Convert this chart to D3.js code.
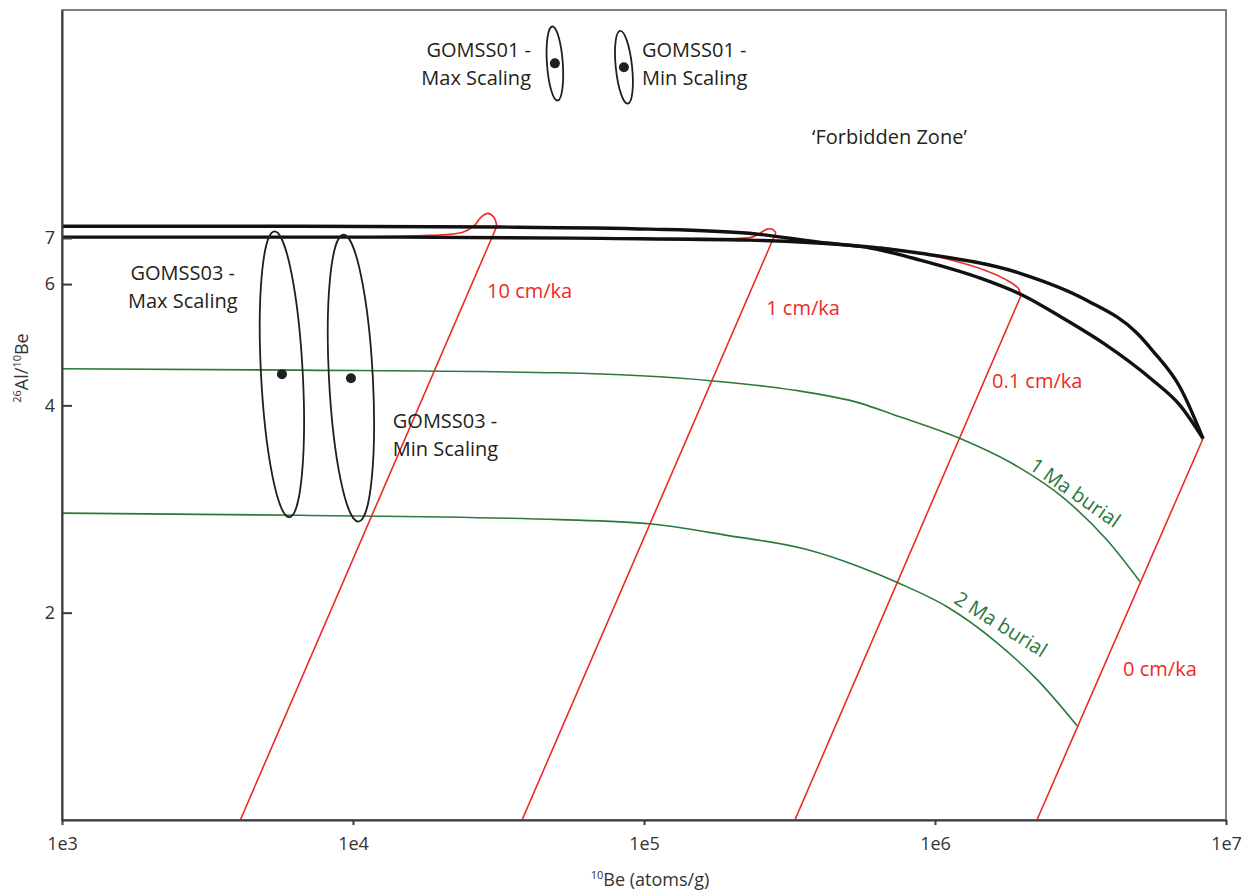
<!DOCTYPE html>
<html lang="en">
<head>
<meta charset="UTF-8">
<title>26Al/10Be burial plot</title>
<style>
  body { margin: 0; background: #fff; }
  text { font-family: "Open Sans", "Noto Sans", sans-serif; }
</style>
</head>
<body>
<div class="canvas"></div>
<script src="https://cdnjs.cloudflare.com/ajax/libs/d3/7.8.5/d3.min.js"></script>
<script>
// axis ticks
const beTicks = [1e3, 1e4, 1e5, 1e6, 1e7];
const ratioTicks = [2, 4, 6, 7];

// black curves [10Be, 26Al/10Be]
const curveUpper = [[1e3,7.28],[6.6e3,7.28],[3.2e4,7.26],[1.05e5,7.21],[2.3e5,7.11],[4.0e5,6.90],[6.0e5,6.77],
  [8.9e5,6.50],[1.43e6,6.12],[2.0e6,5.78],[2.7e6,5.38],[3.8e6,4.92],[5.6e6,4.35],[6.95e6,4.0],[8.34e6,3.58]];
const curveLower = [[1e3,7.02],[1.45e4,7.02],[7.1e4,6.99],[2.3e5,6.95],[5.1e5,6.83],[8.9e5,6.65],[1.96e6,6.22],
  [3.33e6,5.68],[4.95e6,5.09],[5.6e6,4.80],[6.95e6,4.25],[8.34e6,3.58]];

// erosion rate burial paths (start on curve, end at ratio 1)
const erosionLabels = ['10 cm/ka', '1 cm/ka', '0.1 cm/ka', '0 cm/ka'];
const erosionStart = [[3.12e4,7.28],[2.84e5,7.13],[1.97e6,5.76],[8.34e6,3.58]];
const erosionEnd = [[4.1e3,1],[3.81e4,1],[3.30e5,1],[2.24e6,1]];
const erosionHooks = [
  [[3.12e4,7.28],[3.05e4,7.50],[2.91e4,7.60],[2.75e4,7.50],[2.60e4,7.28],[2.37e4,7.13],[1.84e4,7.06],[9.24e3,7.02]],
  [[2.84e5,7.13],[2.75e5,7.21],[2.65e5,7.21],[2.54e5,7.14],[2.35e5,7.02],[1.56e5,6.99],[1.20e5,6.99]],
  [[1.97e6,5.76],[1.93e6,5.92],[1.74e6,6.10],[1.49e6,6.28],[1.17e6,6.48],[8.88e5,6.65],[6.47e5,6.79]]
];
const erosionLabelPos = [[2.89e4,5.72],[2.63e5,5.41],[1.57e6,4.24],[4.43e6,1.62]];

// burial isochrones
const burialLabels = ['1 Ma burial', '2 Ma burial'];
const burial1Ma = [[1e3,4.52],[6.58e3,4.50],[5.14e4,4.46],[1.73e5,4.34],[3.25e5,4.21],[5.52e5,4.03],[7.18e5,3.88],
  [1.22e6,3.58],[1.85e6,3.29],[2.75e6,2.94],[3.90e6,2.55],[5.06e6,2.22]];
const burial2Ma = [[1e3,2.79],[6.58e3,2.77],[5.14e4,2.73],[1.06e5,2.69],[1.93e5,2.59],[3.63e5,2.47],[5.52e5,2.33],
  [7.46e5,2.21],[1.10e6,2.04],[1.63e6,1.81],[2.24e6,1.60],[3.08e6,1.37]];
const burialLabelPos = [[2.09e6,3.24],[1.15e6,2.07]];
const burialLabelAngle = [35, 32];

// samples
const sampleBe = [4.94e4, 8.53e4, 5.7e3, 9.84e3];
const sampleRatio = [12.55, 12.39, 4.44, 4.38];
const sampleBeRange = [[4.64e4,5.26e4],[8.0e4,9.1e4],[4.83e3,6.72e3],[8.27e3,1.17e4]];
const sampleRatioRange = [[11.08,14.2],[10.96,14.0],[2.75,7.16],[2.71,7.08]];
const sampleTilt = [-4, -6, -3, -3];

// sample labels
const sampleLabels = [['GOMSS01 -','Max Scaling'],['GOMSS01 -','Min Scaling'],['GOMSS03 -','Max Scaling'],['GOMSS03 -','Min Scaling']];
const sampleLabelPos = [[4.09e4,12.81],[9.84e4,12.81],[2.60e3,6.08],[1.37e4,3.71]];
const sampleLabelAnchor = ['end','start','middle','start'];

const red = '#ee2a24';
const green = '#2b7a3b';
const ink = '#231f20';

const width = 1251, height = 890;
const margin = {top: 10, right: 25, bottom: 70, left: 62};
const graphWidth = width - margin.left - margin.right;
const graphHeight = height - margin.top - margin.bottom;

const svg = d3.select('.canvas')
  .append('svg')
    .attr('width', width)
    .attr('height', height);

const graph = svg.append('g')
  .attr('transform', `translate(${margin.left}, ${margin.top})`);

const x = d3.scaleLog().domain([1e3, 1e7]).range([0, graphWidth]);
const y = d3.scaleLog().domain([1, 15]).range([graphHeight, 0]);

graph.append('clipPath').attr('id', 'clip')
  .append('rect').attr('width', graphWidth).attr('height', graphHeight);

// frame (top/right)
graph.append('rect')
  .attr('width', graphWidth)
  .attr('height', graphHeight)
  .attr('fill', 'none')
  .attr('stroke', '#555')
  .attr('stroke-width', 1.5);

const plot = graph.append('g').attr('clip-path', 'url(#clip)');

const line = d3.line()
  .x(d => x(d[0]))
  .y(d => y(d[1]))
  .curve(d3.curveMonotoneX);

const hookLine = d3.line()
  .x(d => x(d[0]))
  .y(d => y(d[1]))
  .curve(d3.curveCatmullRom);

// red erosion lines
plot.selectAll('.erosion')
  .data(erosionStart)
  .enter().append('path')
    .attr('d', (d, i) => d3.line().x(p => x(p[0])).y(p => y(p[1]))([erosionEnd[i], d]))
    .attr('fill', 'none')
    .attr('stroke', red)
    .attr('stroke-width', 1.6);

plot.selectAll('.hook')
  .data(erosionHooks)
  .enter().append('path')
    .attr('d', hookLine)
    .attr('fill', 'none')
    .attr('stroke', red)
    .attr('stroke-width', 1.6);

// green burial lines
plot.selectAll('.burial')
  .data([burial1Ma, burial2Ma])
  .enter().append('path')
    .attr('d', line)
    .attr('fill', 'none')
    .attr('stroke', green)
    .attr('stroke-width', 1.6);

// black curves
plot.selectAll('.ss')
  .data([curveUpper, curveLower])
  .enter().append('path')
    .attr('d', line)
    .attr('fill', 'none')
    .attr('stroke', '#111')
    .attr('stroke-width', 3.4)
    .attr('stroke-linejoin', 'round');

// sample ellipses
sampleBe.forEach((be, i) => {
  const cx = (x(sampleBeRange[i][0]) + x(sampleBeRange[i][1])) / 2;
  const cy = (y(sampleRatioRange[i][0]) + y(sampleRatioRange[i][1])) / 2;
  plot.append('ellipse')
    .attr('cx', cx)
    .attr('cy', cy)
    .attr('rx', (x(sampleBeRange[i][1]) - x(sampleBeRange[i][0])) / 2)
    .attr('ry', (y(sampleRatioRange[i][0]) - y(sampleRatioRange[i][1])) / 2)
    .attr('transform', `rotate(${sampleTilt[i]}, ${cx}, ${cy})`)
    .attr('fill', 'none')
    .attr('stroke', ink)
    .attr('stroke-width', 1.8);
  plot.append('circle')
    .attr('cx', x(be))
    .attr('cy', y(sampleRatio[i]))
    .attr('r', 5)
    .attr('fill', ink);
});

// labels
sampleLabels.forEach((lines, i) => {
  const t = graph.append('text')
    .attr('x', x(sampleLabelPos[i][0]))
    .attr('y', y(sampleLabelPos[i][1]))
    .attr('text-anchor', sampleLabelAnchor[i])
    .attr('font-size', 20)
    .attr('fill', ink);
  lines.forEach((s, j) => {
    t.append('tspan')
      .attr('x', x(sampleLabelPos[i][0]))
      .attr('dy', j === 0 ? 0 : 28)
      .text(s);
  });
});

graph.append('text')
  .attr('x', x(3.78e5))
  .attr('y', y(9.58))
  .attr('font-size', 20)
  .attr('fill', ink)
  .text('\u2018Forbidden Zone\u2019');

graph.selectAll('.elabel')
  .data(erosionLabels)
  .enter().append('text')
    .attr('x', (d, i) => x(erosionLabelPos[i][0]))
    .attr('y', (d, i) => y(erosionLabelPos[i][1]))
    .attr('font-size', 20)
    .attr('fill', red)
    .text(d => d);

graph.selectAll('.blabel')
  .data(burialLabels)
  .enter().append('text')
    .attr('transform', (d, i) => `translate(${x(burialLabelPos[i][0])}, ${y(burialLabelPos[i][1])}) rotate(${burialLabelAngle[i]})`)
    .attr('font-size', 20)
    .attr('fill', green)
    .text(d => d);

// axes
const xAxis = d3.axisBottom(x)
  .tickValues(beTicks)
  .tickFormat(d => '1e' + Math.round(Math.log10(d)))
  .tickSizeInner(5)
  .tickSizeOuter(0)
  .tickPadding(12);

const yAxis = d3.axisLeft(y)
  .tickValues(ratioTicks)
  .tickFormat(d3.format('d'))
  .tickSizeInner(-10)
  .tickSizeOuter(0)
  .tickPadding(7);

const xAxisGroup = graph.append('g')
  .attr('transform', `translate(0, ${graphHeight})`)
  .call(xAxis);
const yAxisGroup = graph.append('g').call(yAxis);

[xAxisGroup, yAxisGroup].forEach(g => {
  g.select('.domain').attr('stroke', '#3a3a3a').attr('stroke-width', 2);
  g.selectAll('.tick line').attr('stroke', '#3a3a3a').attr('stroke-width', 2);
  g.selectAll('text').attr('font-size', 18).attr('fill', '#333')
    .attr('font-family', '"Open Sans", sans-serif');
});

// axis titles
const xTitle = svg.append('text')
  .attr('x', 650)
  .attr('y', 886)
  .attr('text-anchor', 'middle')
  .attr('font-size', 18)
  .attr('fill', '#333');
xTitle.append('tspan').attr('font-size', 11).attr('dy', -7).text('10');
xTitle.append('tspan').attr('dy', 7).text('Be (atoms/g)');

const yTitle = svg.append('text')
  .attr('transform', `translate(28, 368) rotate(-90)`)
  .attr('text-anchor', 'middle')
  .attr('font-size', 18)
  .attr('fill', '#333');
yTitle.append('tspan').attr('font-size', 11).attr('dy', -7).text('26');
yTitle.append('tspan').attr('dy', 7).text('Al/');
yTitle.append('tspan').attr('font-size', 11).attr('dy', -7).text('10');
yTitle.append('tspan').attr('dy', 7).text('Be');
</script>
</body>
</html>
